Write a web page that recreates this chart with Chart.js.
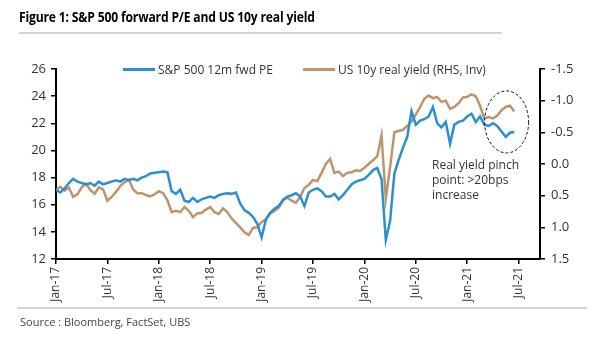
<!doctype html>
<html>
<head>
<meta charset="utf-8">
<script src="https://cdn.jsdelivr.net/npm/chart.js@4"></script>
<style>
  html, body { margin: 0; padding: 0; background: #fff; }
  #wrap { position: relative; width: 605px; height: 341px; overflow: hidden; font-family: "Open Sans", sans-serif; color: #333; }
  #chart { position: absolute; left: 0; top: 0; }
  .title { position: absolute; left: 19px; top: 8px; font: bold 13.5px "Open Sans", sans-serif; color: #000; white-space: nowrap; letter-spacing: -0.2px; transform: scaleX(0.9); transform-origin: 0 0; }
  .rule { position: absolute; height: 2px; background: #d4d4d4; }
  .src { position: absolute; left: 20px; top: 314px; font-size: 11px; color: #444; white-space: nowrap; }
  .lg { position: absolute; top: 61px; font-size: 12px; white-space: nowrap; color: #333; }
  .lg i { display: inline-block; width: 32px; height: 3px; vertical-align: middle; margin-right: 3px; position: relative; top: -1px; }
  .note { position: absolute; left: 432px; top: 157px; font-size: 12px; line-height: 15px; color: #333; white-space: nowrap; }
</style>
</head>
<body>
<div id="wrap">
  <canvas id="chart" width="605" height="341"></canvas>
  <div class="title">Figure 1: S&amp;P 500 forward P/E and US 10y real yield</div>
  <div class="rule" style="left:19px; top:32px; width:483px;"></div>
  <div class="lg" style="left:123px;"><i style="background:#2b8fd0"></i>S&amp;P 500 12m fwd PE</div>
  <div class="lg" style="left:303px;"><i style="background:#bf946c"></i>US 10y real yield (RHS, Inv)</div>
  <div class="note">Real yield pinch<br>point: &gt;20bps<br>increase</div>
  <div class="rule" style="left:17px; top:307px; width:570px;"></div>
  <div class="src">Source : Bloomberg, FactSet, UBS</div>
</div>
<script>
// x = months since Jan-2017, one point every half month
const xTickLabels = ['Jan-17', 'Jul-17', 'Jan-18', 'Jul-18', 'Jan-19', 'Jul-19', 'Jan-20', 'Jul-20', 'Jan-21', 'Jul-21'];
const xTickMonths = [0, 6, 12, 18, 24, 30, 36, 42, 48, 54];
const stepMonths = 0.5;

// S&P 500 12m forward P/E (left axis)
const fwdPE = [
  17.1, 16.9, 17.2, 17.6, 17.9, 17.7, 17.6, 17.5, 17.6, 17.4,
  17.7, 17.5, 17.6, 17.7, 17.8, 17.7, 17.9, 17.8, 17.9, 17.8,
  18.0, 18.1, 18.3, 18.35, 18.4, 18.45, 18.4, 17.0, 16.8, 17.1,
  16.3, 16.2, 16.5, 16.2, 16.4, 16.5, 16.6, 16.5, 16.7, 16.8,
  16.85, 16.8, 16.9, 16.1, 15.6, 15.4, 15.1, 14.6, 13.6, 14.9,
  15.4, 15.7, 15.9, 16.35, 16.6, 16.7, 16.85, 16.6, 15.9, 16.9,
  17.1, 17.2, 17.0, 16.6, 16.6, 16.8, 16.4, 16.7, 17.1, 17.5,
  17.7, 17.8, 17.9, 18.2, 18.55, 18.7, 17.9, 13.4, 14.8, 18.3,
  19.3, 20.2, 21.0, 22.9, 21.9, 22.2, 22.3, 22.5, 23.2, 22.0,
  21.7, 22.1, 20.5, 21.9, 22.1, 22.2, 22.5, 22.7, 22.1, 22.5,
  21.9, 21.8, 22.0, 21.8, 21.4, 21.0, 21.3, 21.35
];

// US 10y real yield, % (right axis, inverted)
const realYield = [
  0.41, 0.36, 0.42, 0.37, 0.52, 0.48, 0.37, 0.31, 0.41, 0.47,
  0.37, 0.40, 0.58, 0.52, 0.44, 0.35, 0.29, 0.25, 0.40, 0.46,
  0.46, 0.49, 0.51, 0.48, 0.43, 0.46, 0.57, 0.76, 0.74, 0.76,
  0.68, 0.74, 0.84, 0.78, 0.77, 0.72, 0.68, 0.76, 0.79, 0.70,
  0.76, 0.86, 0.93, 1.00, 1.08, 1.12, 1.01, 1.00, 0.92, 0.87,
  0.78, 0.74, 0.69, 0.57, 0.53, 0.58, 0.61, 0.52, 0.38, 0.33,
  0.25, 0.27, 0.14, 0.00, -0.08, 0.14, 0.12, 0.19, 0.14, 0.13,
  0.10, 0.11, 0.06, 0.00, -0.06, -0.12, -0.45, 0.55, 0.05, -0.50,
  -0.52, -0.54, -0.60, -0.67, -0.78, -0.90, -1.03, -1.08, -1.04, -1.06,
  -0.98, -1.00, -0.87, -0.90, -0.96, -1.05, -1.06, -1.10, -1.07, -0.92,
  -0.72, -0.74, -0.72, -0.76, -0.85, -0.90, -0.92, -0.83
];

// dashed ring round the last few months (data coords)
const ringCentre = { month: 52.6, pe: 22.1 };

const toXY = arr => arr.map((v, i) => ({ x: i * stepMonths, y: v }));

const ringPlugin = {
  id: 'ring',
  afterDatasetsDraw(chart) {
    const { ctx, scales } = chart;
    const cx = scales.x.getPixelForValue(ringCentre.month);
    const cy = scales.y.getPixelForValue(ringCentre.pe);
    ctx.save();
    ctx.setLineDash([3, 2]);
    ctx.strokeStyle = '#111';
    ctx.lineWidth = 1;
    ctx.beginPath();
    ctx.ellipse(cx, cy, 22, 31, 0, 0, Math.PI * 2);
    ctx.stroke();
    ctx.restore();
  }
};

const tickFont = { family: 'Open Sans', size: 13 };
const axisCommon = {
  border: { display: true, color: '#000', width: 2 },
  grid: { drawOnChartArea: false, drawTicks: true, tickLength: 5, color: '#000', lineWidth: 1.5 },
};

new Chart(document.getElementById('chart'), {
  type: 'line',
  data: {
    datasets: [
      { label: 'S&P 500 12m fwd PE', data: toXY(fwdPE), yAxisID: 'y', borderColor: '#2b8fd0', borderWidth: 2.5, pointRadius: 0, tension: 0 },
      { label: 'US 10y real yield (RHS, Inv)', data: toXY(realYield), yAxisID: 'y2', borderColor: '#bf946c', borderWidth: 2.5, pointRadius: 0, tension: 0 },
    ],
  },
  options: {
    responsive: false,
    animation: false,
    devicePixelRatio: 1,
    layout: { padding: { top: 69, left: 0, right: 0, bottom: 0 } },
    plugins: { legend: { display: false }, tooltip: { enabled: false } },
    scales: {
      x: {
        ...axisCommon,
        type: 'linear', min: 0, max: 56.5,
        afterBuildTicks: s => { s.ticks = xTickMonths.map(v => ({ value: v })); },
        afterFit: s => { s.height = 82; },
        ticks: {
          autoSkip: false, minRotation: 90, maxRotation: 90, padding: 3,
          color: '#333', font: { family: 'Open Sans', size: 12 },
          callback: v => xTickLabels[xTickMonths.indexOf(v)],
        },
      },
      y: {
        ...axisCommon,
        position: 'left', min: 12, max: 26,
        afterFit: s => { s.width = 56; },
        ticks: { stepSize: 2, color: '#333', font: tickFont, padding: 5 },
      },
      y2: {
        ...axisCommon,
        position: 'right', min: -1.5, max: 1.5, reverse: true,
        afterFit: s => { s.width = 65; },
        ticks: { stepSize: 0.5, color: '#333', font: tickFont, padding: 6, callback: v => v.toFixed(1) },
      },
    },
  },
  plugins: [ringPlugin],
});
</script>
</body>
</html>
